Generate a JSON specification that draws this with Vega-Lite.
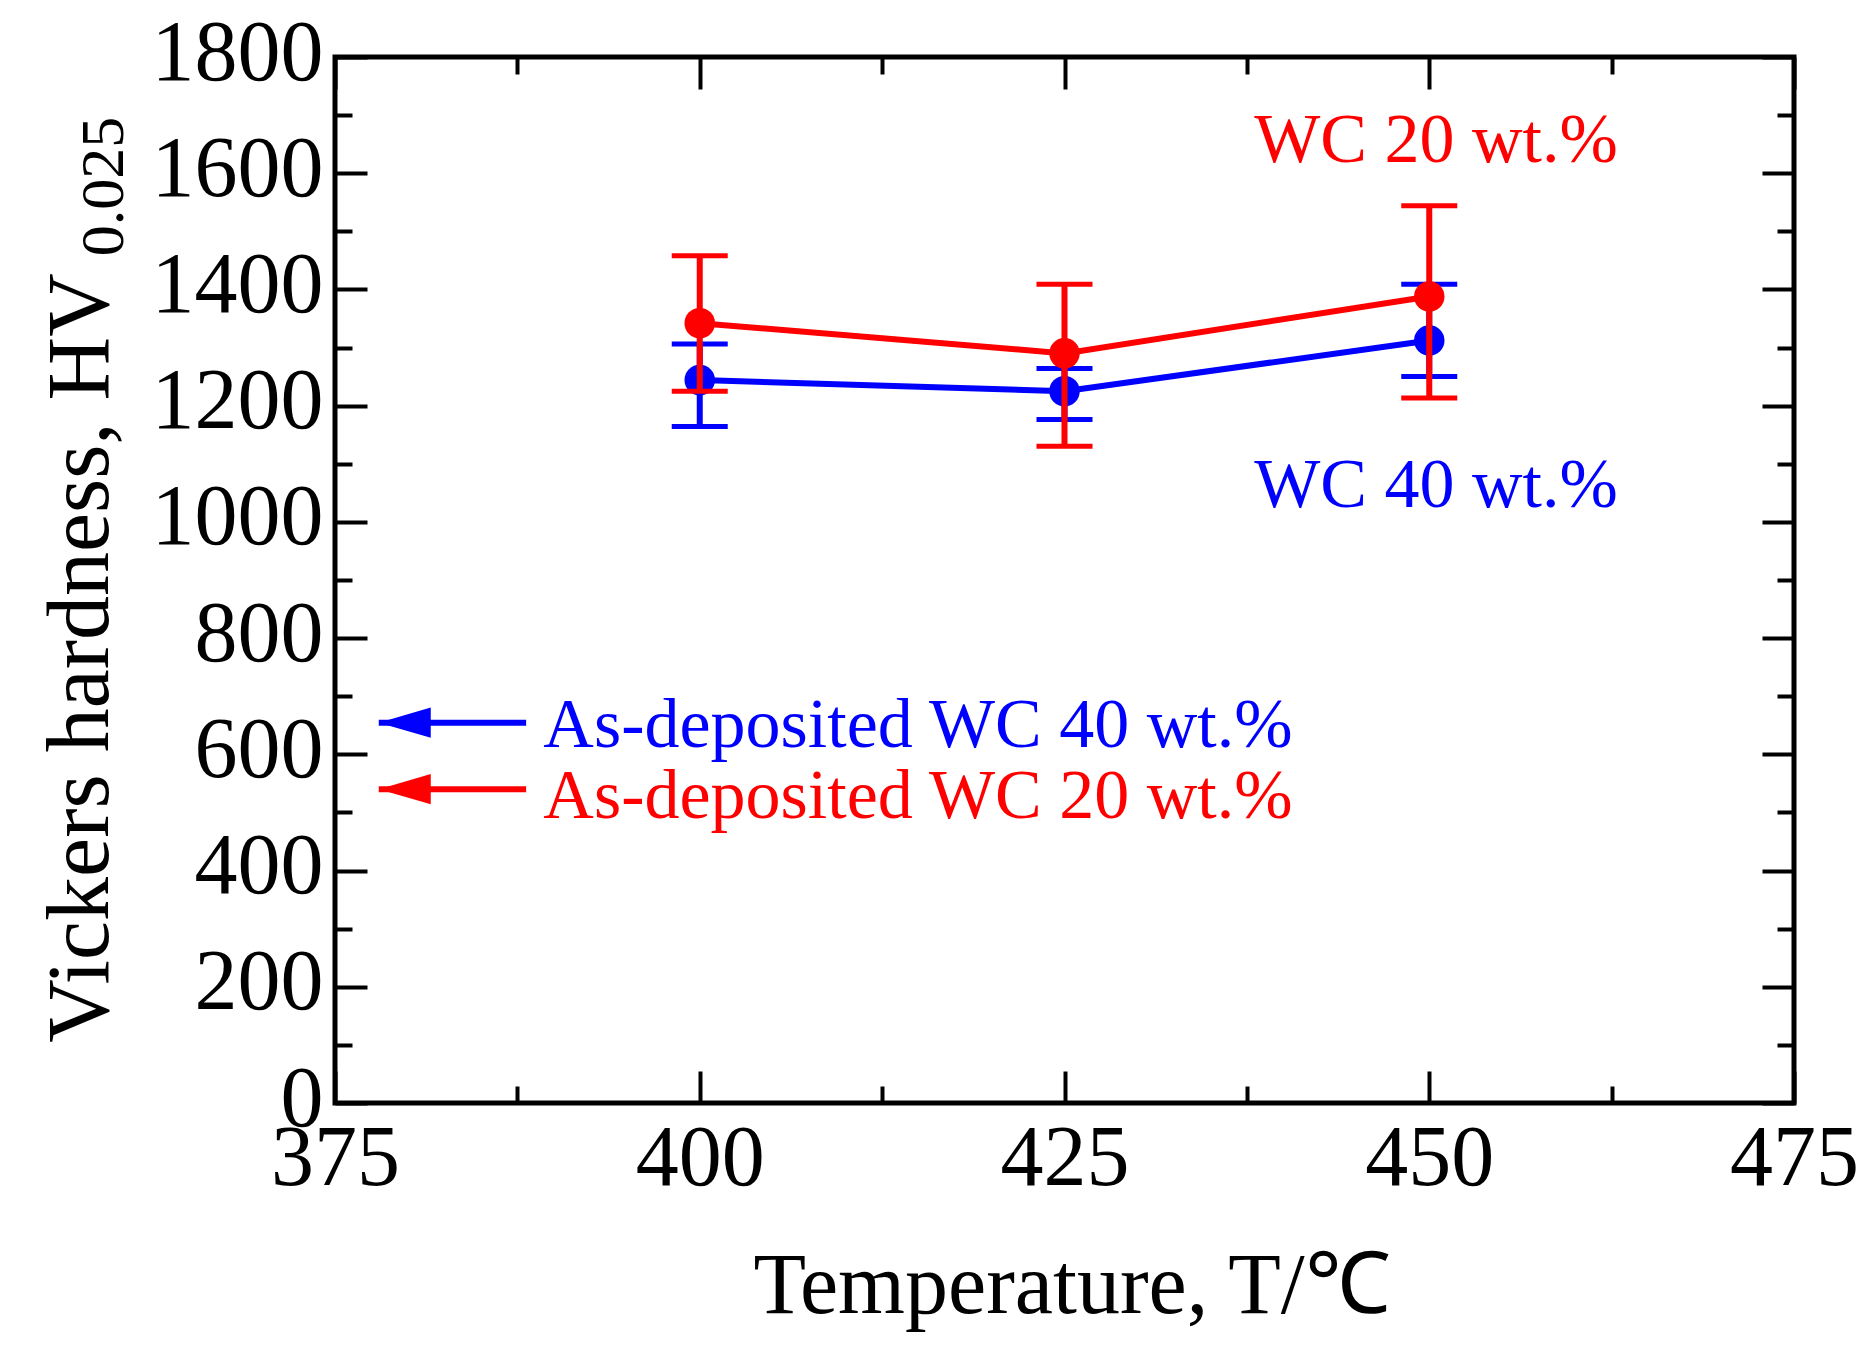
{
  "$schema": "https://vega.github.io/schema/vega-lite/v6.json",
  "width": 1459,
  "height": 1046,
  "autosize": {"type": "none"},
  "padding": {"left": 335, "top": 57, "right": 72, "bottom": 251},
  "background": "white",
  "config": {
    "view": {"stroke": "black", "strokeWidth": 5},
    "font": "Liberation Serif",
    "axis": {
      "grid": false, "domain": false, "tickColor": "black", "tickWidth": 4,
      "labelColor": "black", "labelFont": "Liberation Serif", "titleFont": "Liberation Serif",
      "titleColor": "black", "titleFontWeight": "normal", "labelFlush": false,
      "labelOverlap": false, "labelBound": false, "labelLimit": 0
    }
  },
  "datasets": {
    "hv": [
      {"series": "WC 20 wt.%", "T": 400, "HV": 1342, "lo": 1225, "hi": 1458},
      {"series": "WC 20 wt.%", "T": 425, "HV": 1290, "lo": 1130, "hi": 1409},
      {"series": "WC 20 wt.%", "T": 450, "HV": 1388, "lo": 1213, "hi": 1544},
      {"series": "WC 40 wt.%", "T": 400, "HV": 1244, "lo": 1164, "hi": 1306},
      {"series": "WC 40 wt.%", "T": 425, "HV": 1225, "lo": 1176, "hi": 1264},
      {"series": "WC 40 wt.%", "T": 450, "HV": 1312, "lo": 1250, "hi": 1409}
    ],
    "arrows": [
      {"series": "WC 40 wt.%", "T": 378, "T2": 388.1, "HV": 654.5},
      {"series": "WC 20 wt.%", "T": 378, "T2": 388.1, "HV": 540}
    ],
    "notes": [
      {"series": "WC 20 wt.%", "label": "WC 20 wt.%", "T": 438.0, "HV": 1620},
      {"series": "WC 40 wt.%", "label": "WC 40 wt.%", "T": 438.0, "HV": 1026},
      {"series": "WC 40 wt.%", "label": "As-deposited WC 40 wt.%", "T": 389.28, "HV": 613},
      {"series": "WC 20 wt.%", "label": "As-deposited WC 20 wt.%", "T": 389.28, "HV": 490}
    ]
  },
  "resolve": {"axis": {"x": "independent", "y": "independent"}},
  "layer": [
    {
      "data": {"name": "hv"},
      "transform": [{"filter": "datum.series === 'WC 40 wt.%'"}],
      "mark": {"type": "rule", "strokeWidth": 6},
      "encoding": {
        "x": {"field": "T", "type": "quantitative", "scale": {"domain": [375, 475], "nice": false, "zero": false},
          "axis": {"orient": "bottom", "values": [375, 400, 425, 450, 475], "format": "d", "tickSize": -32, "labelFontSize": 86,
            "labelBaseline": "alphabetic", "labelPadding": 113,
            "title": "Temperature, T/℃", "titleFontSize": 86, "titleX": 736.5, "titleY": 209,
            "titleAlign": "center", "titleBaseline": "alphabetic"}},
        "y": {"field": "lo", "type": "quantitative", "scale": {"domain": [0, 1800], "nice": false, "zero": false},
          "axis": {"orient": "left", "values": [0, 200, 400, 600, 800, 1000, 1200, 1400, 1600, 1800], "format": "d", "tickSize": -32,
            "labelFontSize": 86, "labelPadding": 44, "labelOffset": -4,
            "title": "Vickers hardness, HV", "titleFontSize": 88, "titleAngle": 270, "titleX": -228, "titleY": 600.5,
            "titleAlign": "center", "titleBaseline": "alphabetic"}},
        "y2": {"field": "hi"},
        "color": {"field": "series", "type": "nominal", "scale": {"domain": ["WC 20 wt.%", "WC 40 wt.%"], "range": ["#ff0000", "#0000ff"]}, "legend": null}
      }
    },
    {
      "data": {"name": "hv"},
      "transform": [{"filter": "datum.series === 'WC 40 wt.%'"}, {"fold": ["lo", "hi"], "as": ["k", "v"]}],
      "mark": {"type": "tick", "orient": "horizontal", "size": 56, "thickness": 5, "opacity": 1},
      "encoding": {
        "x": {"field": "T", "type": "quantitative",
          "axis": {"orient": "bottom", "values": [387.5, 412.5, 437.5, 462.5], "tickSize": -17, "labels": false, "title": null}},
        "y": {"field": "v", "type": "quantitative",
          "axis": {"orient": "left", "values": [100, 300, 500, 700, 900, 1100, 1300, 1500, 1700], "tickSize": -17, "labels": false, "title": null}},
        "color": {"field": "series", "type": "nominal", "legend": null}
      }
    },
    {
      "data": {"name": "hv"},
      "transform": [{"filter": "datum.series === 'WC 40 wt.%'"}],
      "mark": {"type": "line", "strokeWidth": 6},
      "encoding": {
        "x": {"field": "T", "type": "quantitative",
          "axis": {"orient": "top", "values": [375, 400, 425, 450, 475], "tickSize": -32, "labels": false, "title": null}},
        "y": {"field": "HV", "type": "quantitative",
          "axis": {"orient": "right", "values": [0, 200, 400, 600, 800, 1000, 1200, 1400, 1600, 1800], "tickSize": -32, "labels": false, "title": null}},
        "color": {"field": "series", "type": "nominal", "legend": null}
      }
    },
    {
      "data": {"name": "hv"},
      "transform": [{"filter": "datum.series === 'WC 40 wt.%'"}],
      "mark": {"type": "point", "shape": "circle", "filled": true, "opacity": 1, "size": 930},
      "encoding": {
        "x": {"field": "T", "type": "quantitative",
          "axis": {"orient": "top", "values": [387.5, 412.5, 437.5, 462.5], "tickSize": -17, "labels": false, "title": null}},
        "y": {"field": "HV", "type": "quantitative",
          "axis": {"orient": "right", "values": [100, 300, 500, 700, 900, 1100, 1300, 1500, 1700], "tickSize": -17, "labels": false, "title": null}},
        "color": {"field": "series", "type": "nominal", "legend": null}
      }
    },
    {
      "data": {"name": "hv"},
      "transform": [{"filter": "datum.series === 'WC 20 wt.%'"}],
      "mark": {"type": "rule", "strokeWidth": 6},
      "encoding": {
        "x": {"field": "T", "type": "quantitative", "axis": null},
        "y": {"field": "lo", "type": "quantitative", "axis": null},
        "y2": {"field": "hi"},
        "color": {"field": "series", "type": "nominal", "legend": null}
      }
    },
    {
      "data": {"name": "hv"},
      "transform": [{"filter": "datum.series === 'WC 20 wt.%'"}, {"fold": ["lo", "hi"], "as": ["k", "v"]}],
      "mark": {"type": "tick", "orient": "horizontal", "size": 56, "thickness": 5, "opacity": 1},
      "encoding": {
        "x": {"field": "T", "type": "quantitative", "axis": null},
        "y": {"field": "v", "type": "quantitative", "axis": null},
        "color": {"field": "series", "type": "nominal", "legend": null}
      }
    },
    {
      "data": {"name": "hv"},
      "transform": [{"filter": "datum.series === 'WC 20 wt.%'"}],
      "mark": {"type": "line", "strokeWidth": 6},
      "encoding": {
        "x": {"field": "T", "type": "quantitative", "axis": null},
        "y": {"field": "HV", "type": "quantitative", "axis": null},
        "color": {"field": "series", "type": "nominal", "legend": null}
      }
    },
    {
      "data": {"name": "hv"},
      "transform": [{"filter": "datum.series === 'WC 20 wt.%'"}],
      "mark": {"type": "point", "shape": "circle", "filled": true, "opacity": 1, "size": 930},
      "encoding": {
        "x": {"field": "T", "type": "quantitative", "axis": null},
        "y": {"field": "HV", "type": "quantitative", "axis": null},
        "color": {"field": "series", "type": "nominal", "legend": null}
      }
    },
    {
      "data": {"name": "arrows"},
      "mark": {"type": "rule", "strokeWidth": 6},
      "encoding": {
        "x": {"field": "T", "type": "quantitative", "axis": null},
        "x2": {"field": "T2"},
        "y": {"field": "HV", "type": "quantitative", "axis": null},
        "color": {"field": "series", "type": "nominal", "legend": null}
      }
    },
    {
      "data": {"name": "arrows"},
      "mark": {"type": "point", "shape": "M 0 0 L 2 -0.58 L 2 0.58 Z", "filled": true, "opacity": 1, "size": 2704},
      "encoding": {
        "x": {"field": "T", "type": "quantitative", "axis": null},
        "y": {"field": "HV", "type": "quantitative", "axis": null},
        "color": {"field": "series", "type": "nominal", "legend": null}
      }
    },
    {
      "data": {"name": "notes"},
      "mark": {"type": "text", "align": "left", "baseline": "alphabetic", "fontSize": 70, "font": "Liberation Serif"},
      "encoding": {
        "x": {"field": "T", "type": "quantitative", "axis": null},
        "y": {"field": "HV", "type": "quantitative", "axis": null},
        "text": {"field": "label"},
        "color": {"field": "series", "type": "nominal", "legend": null}
      }
    },
    {
      "data": {"values": [{"label": "0.025", "T": 360.47, "HV": 1577}]},
      "mark": {"type": "text", "align": "center", "baseline": "alphabetic", "angle": 270, "fontSize": 62, "font": "Liberation Serif", "color": "black"},
      "encoding": {
        "x": {"field": "T", "type": "quantitative", "axis": null},
        "y": {"field": "HV", "type": "quantitative", "axis": null},
        "text": {"field": "label"}
      }
    }
  ]
}
